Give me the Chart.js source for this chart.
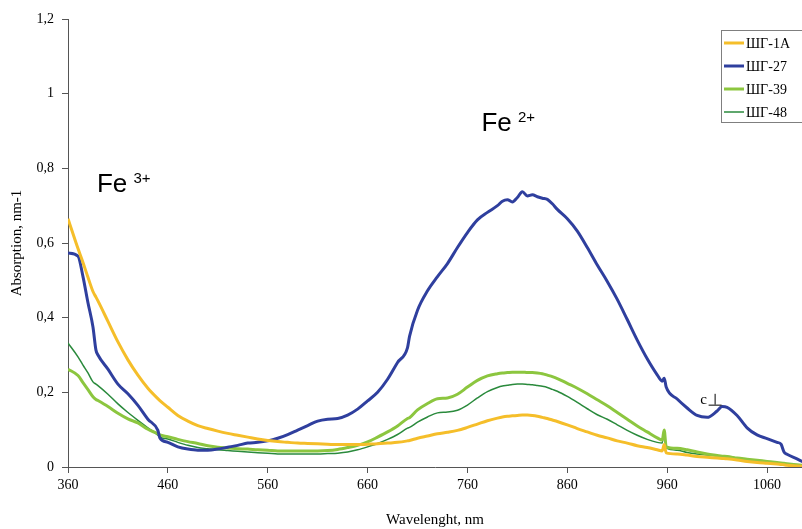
<!DOCTYPE html>
<html>
<head>
<meta charset="utf-8">
<script src="https://cdn.jsdelivr.net/npm/chart.js@4/dist/chart.umd.min.js"></script>
<style>
  html, body { margin: 0; padding: 0; background: #fff; }
  #wrap { width: 802px; height: 529px; }
</style>
</head>
<body>
<div id="wrap"><canvas id="spectra" width="802" height="529"></canvas></div>
<script>
// Wavelength grid, nm (extra points where the curves have steps or spikes)
const wavelengths = [
  360, 370, 375, 380, 385, 388, 390, 400, 410, 420, 430, 440, 450, 452,
  460, 470, 480, 490, 500, 510, 520, 530, 540, 550, 560, 570, 580, 590,
  600, 610, 620, 630, 640, 650, 660, 670, 680, 690, 700, 702,
  710, 720, 730, 740, 750, 760, 770, 780, 790, 795, 800, 805, 810, 815,
  820, 825, 830, 835, 840, 845, 850, 860, 870, 880, 890, 900, 910, 920, 930, 940, 950,
  955, 957, 959, 970, 980, 990, 1000, 1010, 1015,
  1020, 1030, 1040, 1050, 1060, 1070, 1074, 1077, 1080, 1090, 1100
];

// Absorption, nm-1
const shg1A = [
  0.665, 0.585, 0.548, 0.508, 0.470, 0.455, 0.445, 0.390, 0.335, 0.287, 0.246, 0.211, 0.183, 0.178,
  0.160, 0.138, 0.123, 0.111, 0.103, 0.096, 0.090, 0.085, 0.080, 0.075, 0.071, 0.068, 0.066, 0.064,
  0.063, 0.062, 0.061, 0.060, 0.060, 0.060, 0.061, 0.062, 0.064, 0.066, 0.070, 0.071,
  0.077, 0.083, 0.089, 0.093, 0.098, 0.106, 0.115, 0.124, 0.131, 0.134, 0.136, 0.137, 0.138, 0.139,
  0.139, 0.138, 0.136, 0.133, 0.130, 0.126, 0.122, 0.113, 0.103, 0.094, 0.085, 0.078, 0.070, 0.064, 0.057, 0.052, 0.046,
  0.043, 0.060, 0.038, 0.035, 0.032, 0.028, 0.026, 0.024, 0.023,
  0.022, 0.019, 0.015, 0.012, 0.010, 0.008, 0.007, 0.006, 0.005, 0.003, 0.001
];
const shg27 = [
  0.573, 0.565, 0.510, 0.440, 0.375, 0.313, 0.300, 0.262, 0.222, 0.196, 0.165, 0.128, 0.098, 0.078,
  0.066, 0.054, 0.048, 0.045, 0.045, 0.048, 0.053, 0.058, 0.064, 0.066, 0.070, 0.077, 0.087, 0.099,
  0.111, 0.123, 0.128, 0.130, 0.139, 0.155, 0.177, 0.200, 0.235, 0.280, 0.320, 0.350,
  0.420, 0.472, 0.510, 0.545, 0.588, 0.628, 0.662, 0.682, 0.700, 0.712, 0.716, 0.710, 0.722, 0.737,
  0.726, 0.729, 0.724, 0.720, 0.717, 0.705, 0.690, 0.665, 0.632, 0.588, 0.541, 0.497, 0.449, 0.395, 0.340, 0.290, 0.247,
  0.230, 0.238, 0.214, 0.182, 0.158, 0.138, 0.133, 0.150, 0.162,
  0.160, 0.138, 0.105, 0.086, 0.076, 0.066, 0.061, 0.040, 0.034, 0.022, 0.008
];
const shg39 = [
  0.262, 0.245, 0.226, 0.207, 0.188, 0.181, 0.178, 0.162, 0.144, 0.129, 0.118, 0.101, 0.089, 0.086,
  0.081, 0.074, 0.068, 0.063, 0.057, 0.053, 0.051, 0.049, 0.048, 0.046, 0.045, 0.043, 0.043, 0.043,
  0.043, 0.043, 0.044, 0.047, 0.052, 0.058, 0.067, 0.080, 0.094, 0.110, 0.130, 0.132,
  0.153, 0.170, 0.183, 0.185, 0.195, 0.214, 0.232, 0.244, 0.250, 0.252, 0.253, 0.254, 0.254, 0.254,
  0.253, 0.253, 0.252, 0.250, 0.246, 0.242, 0.237, 0.224, 0.211, 0.196, 0.180, 0.164, 0.146, 0.128, 0.110, 0.094, 0.078,
  0.072, 0.099, 0.054, 0.050, 0.046, 0.040, 0.035, 0.031, 0.029,
  0.028, 0.024, 0.021, 0.018, 0.015, 0.012, 0.011, 0.010, 0.009, 0.006, 0.003
];
const shg48 = [
  0.332, 0.295, 0.273, 0.252, 0.228, 0.222, 0.218, 0.195, 0.169, 0.146, 0.125, 0.105, 0.085, 0.080,
  0.075, 0.066, 0.058, 0.052, 0.049, 0.046, 0.044, 0.042, 0.040, 0.038, 0.037, 0.035, 0.035, 0.035,
  0.035, 0.035, 0.036, 0.037, 0.040, 0.046, 0.054, 0.063, 0.074, 0.087, 0.104, 0.106,
  0.120, 0.134, 0.145, 0.147, 0.152, 0.166, 0.185, 0.202, 0.213, 0.217, 0.219, 0.221, 0.222, 0.222,
  0.221, 0.220, 0.218, 0.216, 0.213, 0.208, 0.203, 0.189, 0.173, 0.156, 0.140, 0.128, 0.113, 0.098, 0.085, 0.074, 0.066,
  0.064, 0.099, 0.051, 0.045, 0.039, 0.035, 0.032, 0.030, 0.029,
  0.028, 0.024, 0.019, 0.015, 0.011, 0.008, 0.007, 0.006, 0.005, 0.002, 0.000
];

const seriesNames = ['ШГ-1А', 'ШГ-27', 'ШГ-39', 'ШГ-48'];
const xTicks = [360, 460, 560, 660, 760, 860, 960, 1060];

const COLORS = ['#f5be2a', '#2f3f9e', '#8cc63f', '#2a8a3c'];
const WIDTHS = [3, 3, 3, 1.5];
const SERIF = '"Liberation Serif", "Times New Roman", serif';
const SANS = '"Liberation Sans", Arial, sans-serif';

function points(values) {
  return values.map((v, i) => ({ x: wavelengths[i], y: v }));
}

const datasets = [shg1A, shg27, shg39, shg48].map((vals, i) => ({
  label: seriesNames[i],
  data: points(vals),
  borderColor: COLORS[i],
  backgroundColor: COLORS[i],
  borderWidth: WIDTHS[i],
  pointRadius: 0,
  cubicInterpolationMode: 'monotone',
  fill: false
}));

// Text labels on the plot, placed in data coordinates
const notes = [
  { x: 389, y: 0.737, main: 'Fe', sup: '3+' },
  { x: 774, y: 0.900, main: 'Fe', sup: '2+' }
];

const annotationsPlugin = {
  id: 'annotations',
  afterDatasetsDraw(chart) {
    const { ctx, scales: { x, y } } = chart;
    ctx.save();
    ctx.fillStyle = '#000';
    ctx.textBaseline = 'alphabetic';
    notes.forEach(n => {
      const px = x.getPixelForValue(n.x);
      const py = y.getPixelForValue(n.y);
      ctx.font = '26px ' + SANS;
      ctx.fillText(n.main, px, py);
      const w = ctx.measureText(n.main + ' ').width;
      ctx.font = '15px ' + SANS;
      ctx.fillText(n.sup, px + w - 1, py - 9);
    });
    // "c" mark near the 1015 nm band
    ctx.font = '15px ' + SERIF;
    ctx.fillText('c', x.getPixelForValue(993), y.getPixelForValue(0.169));
    const mx = x.getPixelForValue(1007.5);
    const top = y.getPixelForValue(0.196);
    const bot = y.getPixelForValue(0.167);
    ctx.strokeStyle = '#000';
    ctx.lineWidth = 1;
    ctx.beginPath();
    ctx.moveTo(mx + 0.5, top);
    ctx.lineTo(mx + 0.5, bot);
    ctx.moveTo(mx - 6, bot + 0.5);
    ctx.lineTo(mx + 7, bot + 0.5);
    ctx.stroke();
    ctx.restore();
  }
};

const boxLegendPlugin = {
  id: 'boxLegend',
  afterDraw(chart) {
    const { ctx, chartArea } = chart;
    const w = 82, h = 93;
    const left = chartArea.right - w + 1;
    const top = chartArea.top + 11;
    ctx.save();
    ctx.fillStyle = '#fff';
    ctx.fillRect(left, top, w, h);
    ctx.strokeStyle = '#7f7f7f';
    ctx.lineWidth = 1;
    ctx.strokeRect(left + 0.5, top + 0.5, w - 1, h - 1);
    ctx.font = '14px ' + SERIF;
    ctx.textBaseline = 'middle';
    chart.data.datasets.forEach((ds, i) => {
      const cy = top + 13 + i * 23;
      ctx.strokeStyle = ds.borderColor;
      ctx.lineWidth = ds.borderWidth;
      ctx.beginPath();
      ctx.moveTo(left + 3, cy);
      ctx.lineTo(left + 23, cy);
      ctx.stroke();
      ctx.fillStyle = '#000';
      ctx.fillText(ds.label, left + 25, cy + 1);
    });
    ctx.restore();
  }
};

new Chart(document.getElementById('spectra').getContext('2d'), {
  type: 'line',
  data: { datasets },
  plugins: [annotationsPlugin, boxLegendPlugin],
  options: {
    responsive: false,
    animation: false,
    layout: { padding: { top: 19, right: 0, left: 0, bottom: 0 } },
    plugins: {
      legend: { display: false },
      tooltip: { enabled: false }
    },
    scales: {
      x: {
        type: 'linear',
        min: 360,
        max: 1095,
        afterBuildTicks: scale => { scale.ticks = xTicks.map(v => ({ value: v })); },
        afterFit: scale => { scale.height = 62; },
        border: { color: '#555', width: 1 },
        grid: { drawOnChartArea: false, color: '#555', tickLength: 6 },
        ticks: {
          color: '#000',
          font: { family: SERIF, size: 14 },
          padding: 4,
          maxRotation: 0,
          autoSkip: false,
          callback: v => String(v)
        },
        title: {
          display: true,
          text: 'Wavelenght, nm',
          color: '#000',
          font: { family: SERIF, size: 15 },
          padding: { top: 12, bottom: 0 }
        }
      },
      y: {
        min: 0,
        max: 1.2,
        afterFit: scale => { scale.width = 68; },
        border: { color: '#555', width: 1 },
        grid: { drawOnChartArea: false, color: '#555', tickLength: 6 },
        ticks: {
          stepSize: 0.2,
          color: '#000',
          font: { family: SERIF, size: 14 },
          padding: 8,
          callback: v => String(Math.round(v * 10) / 10).replace('.', ',')
        },
        title: {
          display: true,
          text: 'Absorption, nm-1',
          color: '#000',
          font: { family: SERIF, size: 15 },
          padding: { top: 8, bottom: 0 }
        }
      }
    }
  }
});
</script>
</body>
</html>
